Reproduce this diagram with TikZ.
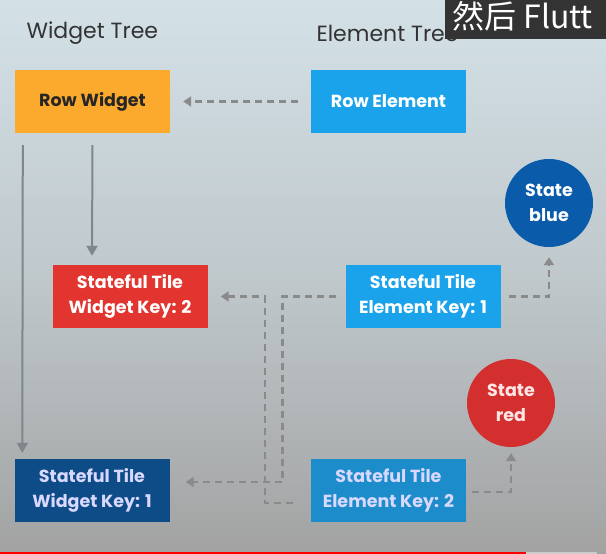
\documentclass[tikz,border=0pt]{standalone}
\usepackage{fontspec}
\setmainfont{Poppins}
\newfontfamily\cjk{Noto Sans CJK SC}
\usetikzlibrary{arrows.meta,calc}
\definecolor{bgtop}{HTML}{D3E1E7}
\definecolor{bgbot}{HTML}{A2A2A2}
\definecolor{orangeW}{HTML}{FBAA2D}
\definecolor{blueE}{HTML}{1AA3EA}
\definecolor{blueE2}{HTML}{1C8CCB}
\definecolor{redW}{HTML}{E2352F}
\definecolor{darkW}{HTML}{0D4C86}
\definecolor{stblue}{HTML}{0A5BAA}
\definecolor{stred}{HTML}{D32F2F}
\definecolor{lineg}{HTML}{7E878A}
\definecolor{dashg}{HTML}{8A8A8A}
\tikzset{
  box/.style={rectangle, minimum width=155pt, minimum height=63pt, inner sep=0pt, align=center,
    font=\fontsize{17.5}{25}\selectfont\bfseries, text=white},
  circ/.style={circle, minimum size=88pt, inner sep=0pt, align=center,
    font=\fontsize{17.5}{25}\selectfont\bfseries, text=white},
  head/.style={font=\fontsize{22}{26}\selectfont, text=black!80},
  solidarr/.style={draw=lineg, line width=2pt, -{Triangle[width=11pt,length=10pt]}},
  dasharr/.style={draw=dashg, line width=2.5pt, dash pattern=on 7pt off 5pt, -{Triangle[width=10pt,length=8pt]}},
}
\begin{document}
\begin{tikzpicture}[x=1pt,y=-1pt]
\useasboundingbox (0,0) rectangle (606,554);
\shade[top color=bgtop, bottom color=bgbot, middle color=bgtop!60!bgbot] (0,0) rectangle (606,554);
% progress bar
\fill[red] (0,551.5) rectangle (526,554);
\fill[gray!40] (526,551.5) rectangle (597,554);
% headings
\node[head, anchor=west] (wt) at (23,33) {Widget Tree};
\node[head, anchor=west] (et) at (313,33) {Element Tree};
% subtitle overlay
\fill[black!80] (445,0) rectangle (606,39);
\node[anchor=west, text=white, font=\cjk\fontsize{32}{34}\selectfont, inner sep=0pt] (sub) at (452,16) {然后 Flutt};
% nodes
\node[box, fill=orangeW, text=black!85] (rw) at (92.5,101.5) {Row Widget};
\node[box, fill=blueE] (re) at (388.5,101.5) {Row Element};
\node[box, fill=redW] (wk2) at (130,296.5) {Stateful Tile\\Widget Key: 2};
\node[box, fill=blueE] (ek1) at (423,296.5) {Stateful Tile\\Element Key: 1};
\node[box, fill=darkW, text=white!85!blue] (wk1) at (92,490.5) {Stateful Tile\\Widget Key: 1};
\node[box, fill=blueE2, text=white!85!blue] (ek2) at (388.5,490.5) {Stateful Tile\\Element Key: 2};
\node[circ, fill=stblue] (sb) at (549,203) {State\\blue};
\node[circ, fill=stred, text=white!90!red] (sr) at (511,403) {State\\red};
% solid arrows
\draw[solidarr] ([xshift=8pt,yshift=-12pt]rw.south west) -- ([xshift=8pt,yshift=6pt]wk1.north west);
\draw[solidarr] ([yshift=-12pt]rw.south) -- ([xshift=-38pt,yshift=9pt]wk2.north);
% dashed arrows
\draw[dasharr] ([xshift=-13pt]re.west) -- ([xshift=13pt]rw.east);
\draw[dasharr] ([xshift=-9pt]ek1.west) -- ++(-54,0) |- ([xshift=16pt,yshift=8.5pt]wk1.east);
\draw[dasharr] ([xshift=-18pt,yshift=-12.5pt]ek2.west) -- ++(-28,0) |- ([xshift=13pt]wk2.east);
\draw[dasharr] ([xshift=8pt]ek1.east) -| ([yshift=-10pt]sb.south);
\draw[dasharr] ([xshift=6pt,yshift=-1.5pt]ek2.east) -| ([yshift=-6pt]sr.south);
\end{tikzpicture}
\end{document}
